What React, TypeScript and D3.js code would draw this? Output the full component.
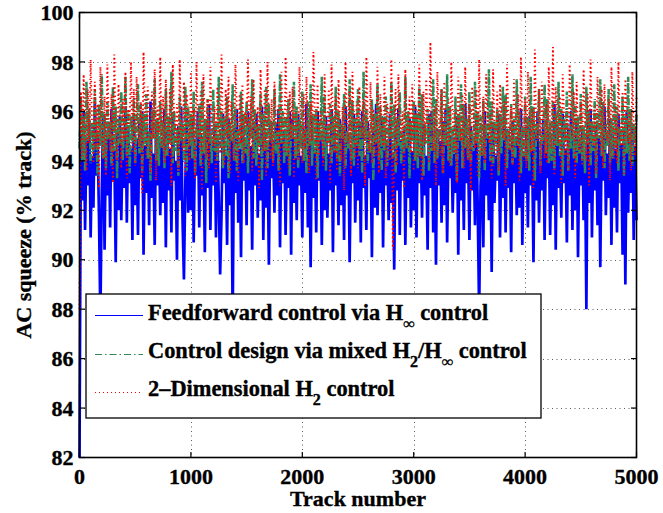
import React from "react";
import * as d3 from "d3";

// Feedforward control via H-infinity (blue, solid)
const blue = [
  82.0, 95.1, 92.4, 96.0, 91.2, 94.8, 93.0, 95.6, 90.9, 94.2, 92.1, 96.3, 93.4, 95.0, 91.7, 87.6, 92.8, 95.9, 90.4, 94.9,
  92.6, 95.4, 91.3, 96.1, 93.2, 94.4, 89.9, 95.2, 92.0, 95.8, 91.6, 94.7, 92.9, 96.2, 91.5, 95.3, 93.1, 94.5, 90.8, 95.7,
  92.2, 94.9, 91.0, 95.5, 93.3, 96.0, 90.2, 94.6, 92.7, 95.2, 91.4, 96.4, 92.5, 94.3, 90.6, 95.6, 93.0, 95.0, 91.8, 94.8,
  92.3, 96.1, 90.5, 95.3, 92.8, 94.5, 91.1, 95.9, 93.2, 94.0, 90.0, 95.4, 92.4, 96.2, 91.6, 89.2, 93.1, 95.7, 91.9, 94.6,
  92.0, 95.8, 90.7, 94.9, 93.4, 96.0, 91.3, 95.1, 92.6, 94.4, 90.3, 95.6, 92.9, 96.3, 91.2, 94.7, 93.0, 95.5, 90.9, 95.0,
  92.5, 89.4, 91.8, 95.9, 93.1, 94.2, 90.6, 95.7, 92.2, 94.8, 87.4, 95.3, 92.7, 96.1, 91.5, 94.5, 90.1, 95.8, 93.2, 94.9,
  91.4, 96.0, 92.8, 94.6, 90.4, 95.4, 93.0, 95.9, 91.7, 94.3, 92.4, 96.2, 90.8, 95.1, 92.1, 94.7, 89.8, 95.6, 93.3, 94.8,
  91.9, 95.5, 92.6, 96.1, 90.5, 94.9, 93.1, 95.2, 91.0, 94.4, 92.9, 96.0, 90.2, 95.7, 92.3, 94.6, 91.6, 95.9, 93.0, 94.2,
  90.9, 95.3, 92.7, 96.3, 91.3, 94.8, 89.7, 95.6, 92.5, 94.5, 91.1, 96.0, 93.2, 95.0, 90.6, 94.7, 92.0, 95.8, 91.7, 94.3,
  92.8, 96.1, 90.3, 95.4, 93.0, 94.6, 91.4, 95.7, 92.2, 94.9, 90.8, 96.2, 92.6, 95.1, 89.9, 94.4, 93.1, 95.9, 91.5, 94.8,
  92.4, 95.5, 90.7, 96.0, 92.9, 94.2, 91.2, 95.6, 93.3, 94.7, 90.1, 95.2, 92.1, 96.3, 91.8, 94.5, 92.7, 95.8, 90.5, 95.0,
  93.0, 94.6, 91.6, 95.9, 92.3, 94.3, 89.6, 95.4, 92.8, 96.1, 91.0, 94.8, 93.2, 95.3, 90.6, 94.9, 92.5, 95.7, 91.3, 94.4,
  92.0, 96.2, 90.9, 95.1, 93.1, 94.7, 91.7, 95.5, 92.6, 94.2, 90.4, 95.9, 92.9, 96.0, 91.1, 94.6, 89.8, 95.3, 93.0, 94.8,
  91.5, 95.6, 92.2, 96.1, 90.7, 94.5, 93.3, 95.0, 91.9, 94.3, 92.7, 95.8, 90.2, 95.2, 92.4, 94.9, 91.2, 96.3, 93.1, 94.6,
  90.8, 95.4, 92.8, 94.7, 91.4, 95.7, 92.0, 87.8, 93.0, 94.4, 90.5, 96.0, 92.6, 95.1, 91.6, 94.8, 89.5, 95.5, 92.3, 94.2,
  93.2, 95.9, 90.9, 94.6, 92.5, 96.2, 91.1, 95.3, 92.9, 94.5, 90.3, 95.6, 93.1, 94.9, 91.8, 95.0, 92.1, 96.1, 90.6, 94.3,
  92.7, 95.4, 91.3, 95.8, 93.0, 94.7, 89.9, 95.2, 92.4, 96.0, 91.5, 94.4, 92.8, 95.7, 90.8, 94.8, 93.3, 95.1, 91.0, 94.6,
  92.2, 96.3, 90.4, 95.5, 92.9, 94.2, 91.7, 95.9, 93.1, 94.5, 90.7, 95.3, 92.6, 96.0, 91.2, 94.9, 92.0, 95.6, 90.1, 94.7,
  93.0, 95.2, 91.6, 94.4, 88.0, 95.8, 92.3, 96.1, 90.9, 94.6, 92.8, 95.4, 91.4, 95.0, 89.7, 94.8, 93.2, 96.2, 91.8, 94.3,
  92.5, 95.7, 90.6, 95.1, 92.1, 94.5, 91.1, 95.9, 93.1, 94.7, 90.2, 95.3, 89.0, 96.0, 91.9, 94.9, 92.7, 95.5, 90.8, 94.6,
  91.6,
];

// Control design via mixed H2/H-infinity (green, dash-dot)
const green = [
  94.5, 96.6, 94.0, 95.8, 93.6, 97.2, 94.8, 96.1, 93.9, 95.5, 94.3, 96.9, 95.0, 93.4, 96.3, 94.6, 97.5, 94.1, 95.9, 93.7,
  96.4, 94.9, 95.6, 93.8, 97.0, 94.4, 96.2, 93.3, 95.7, 94.7, 96.8, 94.0, 95.3, 97.4, 94.2, 96.0, 93.5, 95.8, 94.8, 96.5,
  93.9, 95.4, 97.1, 94.3, 96.3, 93.6, 95.9, 94.6, 96.7, 94.1, 95.2, 93.2, 96.1, 94.9, 97.3, 94.0, 95.7, 93.8, 96.4, 94.5,
  95.6, 93.7, 96.9, 94.2, 95.8, 94.7, 97.6, 93.9, 96.0, 94.4, 95.3, 93.4, 96.6, 94.8, 95.5, 94.0, 97.0, 93.6, 96.2, 94.6,
  95.9, 94.1, 96.8, 93.5, 95.4, 94.9, 96.3, 93.8, 97.2, 94.3, 95.7, 93.1, 96.5, 94.7, 95.1, 93.9, 96.9, 94.4, 95.6, 94.0,
  97.4, 94.6, 96.0, 93.7, 95.8, 94.2, 96.6, 93.3, 95.5, 94.8, 97.1, 94.0, 96.2, 93.6, 95.3, 94.5, 96.8, 93.9, 95.9, 94.3,
  96.4, 93.5, 95.7, 94.9, 97.3, 94.1, 96.1, 93.8, 95.4, 94.6, 96.7, 93.2, 95.9, 94.4, 97.0, 93.7, 96.3, 94.8, 95.6, 94.0,
  96.9, 94.3, 95.2, 93.6, 97.5, 94.7, 96.0, 93.9, 95.8, 94.2, 96.5, 93.4, 95.5, 94.9, 97.2, 94.1, 96.2, 93.7, 95.7, 94.5,
  96.8, 94.0, 95.3, 93.5, 96.4, 94.6, 97.1, 93.8, 95.9, 94.3, 96.1, 93.3, 95.6, 94.8, 97.4, 94.2, 96.6, 93.6, 95.4, 94.7,
  96.3, 93.9, 95.8, 94.4, 97.0, 94.1, 96.0, 93.4, 95.5, 94.9, 96.7, 93.7, 95.2, 94.5, 97.3, 94.0, 96.4, 93.8, 95.7, 94.6,
  96.9, 94.2, 95.6, 93.5, 97.6, 94.8, 96.1, 93.9, 95.3, 94.3, 96.5, 93.2, 95.9, 94.7, 97.1, 94.0, 96.2, 93.6, 95.8, 94.4,
  96.6, 93.8, 95.4, 94.9, 97.2, 94.1, 96.3, 93.5, 95.7, 94.6, 96.8, 93.9, 95.1, 94.3, 97.4, 94.5, 96.0, 93.3, 95.6, 94.8,
  96.4, 94.0, 95.9, 93.7, 97.0, 94.2, 96.7, 93.4, 95.5, 94.7, 96.1, 93.6, 95.8, 94.4, 97.3, 93.9, 96.5, 94.1, 95.3, 94.9,
  96.9, 93.5, 95.6, 94.6, 97.5, 94.0, 96.2, 93.8, 95.4, 94.3, 96.6, 93.2, 95.9, 94.8, 97.1, 93.7, 96.3, 94.5, 95.7, 94.1,
  96.8, 93.9, 95.2, 94.4, 97.2, 94.7, 96.0, 93.3, 95.8, 94.2, 96.5, 93.6, 95.5, 94.9, 97.7, 94.0, 96.4, 93.8, 95.6, 94.6,
  96.1, 93.4, 95.9, 94.3, 97.0, 94.8, 96.7, 93.7, 95.3, 94.5, 96.3, 93.9, 95.7, 94.1, 97.3, 94.6, 96.0, 93.5, 95.4, 94.2,
  96.6, 94.0, 95.8, 93.6, 97.4, 94.4, 96.2, 93.2, 95.5, 94.9, 96.9, 93.8, 95.1, 94.7, 97.1, 94.3, 96.5, 93.9, 95.6, 94.0,
  96.4, 93.7, 95.9, 94.6, 97.2, 94.2, 96.1, 93.4, 95.7, 94.8, 96.8, 93.6, 95.3, 94.5, 97.5, 94.1, 96.3, 93.9, 95.8, 94.3,
  96.7, 94.0, 95.4, 93.5, 97.0, 94.7, 96.0, 93.8, 95.6, 94.4, 96.5, 93.3, 95.9, 94.9, 97.3, 94.2, 96.4, 93.7, 95.5, 94.6,
  96.9, 93.9, 95.7, 94.1, 97.1, 94.5, 96.2, 93.6, 95.3, 94.8, 96.6, 93.4, 95.8, 94.3, 97.4, 94.0, 96.1, 93.8, 95.5, 94.7,
  95.9,
];

// 2-Dimensional H2 control (red, dotted)
const red = [
  88.0, 96.8, 94.2, 97.5, 95.1, 93.6, 96.9, 94.7, 98.1, 95.4, 93.9, 97.2, 94.5, 96.3, 92.9, 97.8, 95.0, 94.1, 96.6, 93.4,
  97.9, 95.6, 94.4, 96.7, 93.1, 98.3, 95.2, 94.0, 97.1, 95.8, 93.7, 96.5, 94.8, 97.6, 93.3, 96.1, 95.5, 98.0, 94.3, 96.9,
  93.8, 97.4, 95.3, 94.6, 96.4, 92.7, 98.4, 95.7, 94.1, 97.0, 95.9, 93.5, 96.8, 94.9, 97.7, 93.2, 96.2, 95.1, 98.2, 94.5,
  96.6, 93.9, 97.3, 95.4, 94.2, 96.9, 93.0, 97.9, 95.6, 94.7, 96.3, 93.6, 98.1, 95.0, 94.4, 97.2, 93.4, 96.7, 95.8, 94.0,
  97.6, 94.8, 96.1, 93.3, 98.0, 95.2, 94.5, 96.8, 92.8, 97.5, 95.5, 94.1, 96.5, 93.7, 97.8, 95.1, 94.6, 96.2, 93.1, 97.0,
  95.7, 94.3, 98.3, 95.0, 93.8, 96.9, 94.9, 97.4, 93.5, 96.4, 95.3, 94.0, 97.9, 95.9, 93.2, 96.7, 94.7, 97.1, 93.9, 96.0,
  95.4, 98.1, 94.2, 96.6, 93.6, 97.3, 95.1, 94.8, 96.2, 92.9, 97.7, 95.6, 94.4, 96.9, 93.4, 98.0, 95.2, 94.1, 96.5, 93.8,
  97.2, 95.8, 94.6, 96.3, 93.0, 97.6, 95.0, 94.3, 98.2, 95.5, 93.7, 96.8, 94.9, 97.0, 93.3, 96.1, 95.7, 94.0, 97.8, 95.3,
  93.9, 96.7, 94.5, 97.4, 95.1, 93.5, 96.4, 94.8, 98.4, 95.9, 93.2, 97.1, 94.2, 96.0, 95.4, 93.8, 97.5, 95.0, 94.6, 96.9,
  93.1, 97.9, 95.6, 94.3, 96.6, 93.6, 97.3, 95.2, 94.0, 96.2, 92.8, 98.0, 95.8, 94.7, 96.8, 93.4, 97.6, 95.5, 94.1, 96.4,
  93.7, 97.0, 95.3, 94.9, 96.5, 93.0, 98.2, 95.7, 94.4, 97.2, 93.9, 96.1, 95.0, 94.2, 97.8, 93.5, 96.7, 95.4, 94.6, 97.4,
  93.3, 96.3, 95.9, 94.0, 98.1, 90.4, 94.5, 96.9, 93.8, 97.5, 95.6, 94.8, 96.0, 92.9, 97.7, 95.2, 94.5, 96.6, 94.3, 97.1,
  93.6, 96.4, 95.8, 94.1, 97.9, 95.0, 93.2, 96.8, 94.7, 97.3, 95.5, 93.9, 98.8, 95.3, 94.4, 96.2, 93.0, 97.6, 95.7, 94.2,
  96.9, 93.5, 97.2, 95.1, 94.6, 96.5, 93.8, 98.0, 95.9, 94.3, 96.1, 93.1, 97.4, 95.4, 94.8, 96.7, 93.7, 97.8, 95.2, 94.0,
  96.3, 92.8, 97.0, 95.6, 94.5, 96.9, 93.4, 98.1, 95.0, 94.2, 96.6, 93.9, 97.5, 95.8, 94.7, 96.0, 93.3, 97.7, 95.3, 94.1,
  96.8, 93.6, 97.1, 95.5, 94.9, 96.4, 93.0, 97.9, 95.7, 94.4, 96.2, 93.8, 97.3, 95.1, 94.6, 96.7, 93.2, 98.2, 95.4, 94.0,
  96.5, 93.7, 97.6, 95.9, 94.3, 96.1, 92.9, 98.5, 95.2, 94.8, 96.9, 93.5, 97.2, 95.6, 94.1, 96.3, 93.9, 97.8, 95.0, 94.5,
  98.6, 93.4, 97.0, 95.3, 94.7, 96.6, 93.1, 97.5, 95.8, 94.2, 96.0, 93.6, 97.9, 95.5, 94.9, 96.8, 93.3, 97.2, 95.1, 94.4,
  96.4, 93.8, 97.7, 95.7, 94.0, 96.7, 93.0, 98.1, 95.4, 94.6, 96.2, 93.5, 97.4, 95.9, 94.3, 96.9, 93.7, 97.1, 95.2, 94.8,
  96.5, 93.2, 97.8, 95.6, 94.1, 96.3, 93.9, 98.0, 95.0, 94.5, 96.8, 93.4, 97.3, 95.8, 94.7, 96.1, 93.6, 97.6, 95.3, 94.2,
  96.6,
];

const xTicks = [0, 1000, 2000, 3000, 4000, 5000];
const yTicks = [82, 84, 86, 88, 90, 92, 94, 96, 98, 100];
const xDomain = [0, 5000];
const yDomain = [82, 100];
const xLabel = "Track number";
const yLabel = "AC squeeze (% track)";

const FONT = "'Liberation Serif', 'Times New Roman', Times, serif";

export default function App() {
  const W = 663;
  const H = 513;
  const x = d3.scaleLinear().domain(xDomain).range([79.5, 636.5]);
  const y = d3.scaleLinear().domain(yDomain).range([457.5, 12.5]);

  const mkLine = (arr: number[]) =>
    d3
      .line<number>()
      .x((_, i) => x((i * (xDomain[1] - xDomain[0])) / (arr.length - 1)))
      .y((d) => y(d))(arr) || "";

  const x0 = x.range()[0];
  const x1 = x.range()[1];
  const y0 = y.range()[0];
  const y1 = y.range()[1];
  const tickLen = 5.5;

  const blueColor = "#0000ff";
  const greenColor = "#2e8b57";
  const redColor = "#ff0000";

  const legend = { l: 86, t: 294, r: 541, b: 418 };
  const rowBase = [320, 358, 396];
  const rowLine = [315.5, 354.5, 392.5];
  const subDy = 9;
  const subSize = 16;
  const textStroke = { stroke: "#000", strokeWidth: 0.35 };

  return (
    <svg
      width={W}
      height={H}
      style={{ position: "absolute", left: 0, top: 0, background: "#fff" }}
      fontFamily={FONT}
    >
      <rect x={0} y={0} width={W} height={H} fill="#fff" />
      {/* grid */}
      <g stroke="#333" strokeWidth={1} strokeDasharray="1,3.5" opacity={0.8}>
        {xTicks.slice(1, -1).map((t) => (
          <line key={"gx" + t} x1={Math.round(x(t)) + 0.5} x2={Math.round(x(t)) + 0.5} y1={y1} y2={y0} />
        ))}
        {yTicks.slice(1, -1).map((t) => (
          <line key={"gy" + t} x1={x0} x2={x1} y1={Math.round(y(t)) + 0.5} y2={Math.round(y(t)) + 0.5} />
        ))}
      </g>
      {/* data */}
      <path d={mkLine(blue)} fill="none" stroke={blueColor} strokeWidth={2.7} strokeLinejoin="bevel" />
      <path d={mkLine(green)} fill="none" stroke={greenColor} strokeWidth={2.5} strokeLinejoin="bevel" strokeDasharray="7,1.5,1.6,1.5" />
      <path d={mkLine(red)} fill="none" stroke={redColor} strokeWidth={1.9} strokeLinejoin="bevel" strokeDasharray="1.4,2.8" />
      {/* box */}
      <rect x={x0} y={y1} width={x1 - x0} height={y0 - y1} fill="none" stroke="#000" strokeWidth={1.6} />
      {/* ticks */}
      <g stroke="#000" strokeWidth={1.2}>
        {xTicks.map((t) => (
          <g key={"tx" + t}>
            <line x1={x(t)} x2={x(t)} y1={y0} y2={y0 - tickLen} />
            <line x1={x(t)} x2={x(t)} y1={y1} y2={y1 + tickLen} />
          </g>
        ))}
        {yTicks.map((t) => (
          <g key={"ty" + t}>
            <line x1={x0} x2={x0 + tickLen} y1={y(t)} y2={y(t)} />
            <line x1={x1} x2={x1 - tickLen} y1={y(t)} y2={y(t)} />
          </g>
        ))}
      </g>
      {/* tick labels */}
      <g fontSize={22} fontWeight="bold" fill="#000" {...textStroke}>
        {xTicks.map((t) => (
          <text key={"lx" + t} x={x(t)} y={484} textAnchor="middle">
            {t}
          </text>
        ))}
        {yTicks.map((t) => (
          <text key={"ly" + t} x={73.5} y={y(t)} dy="0.35em" textAnchor="end">
            {t}
          </text>
        ))}
      </g>
      <text x={358} y={506} textAnchor="middle" fontSize={22} fontWeight="bold" {...textStroke}>
        {xLabel}
      </text>
      <text
        transform={`translate(31, ${(y0 + y1) / 2}) rotate(-90)`}
        textAnchor="middle"
        fontSize={22}
        fontWeight="bold"
        {...textStroke}
      >
        {yLabel}
      </text>
      {/* legend */}
      <rect
        x={legend.l}
        y={legend.t}
        width={legend.r - legend.l}
        height={legend.b - legend.t}
        fill="#fff"
        stroke="#000"
        strokeWidth={1.3}
      />
      <line x1={95} x2={143} y1={rowLine[0]} y2={rowLine[0]} stroke={blueColor} strokeWidth={1} />
      <line x1={95} x2={143} y1={rowLine[1]} y2={rowLine[1]} stroke={greenColor} strokeWidth={1} strokeDasharray="7,3,1.5,3" />
      <line x1={95} x2={143} y1={rowLine[2]} y2={rowLine[2]} stroke={redColor} strokeWidth={1} strokeDasharray="1,3" />
      <g fontSize={22.4} fontWeight="bold" fill="#000" {...textStroke}>
        <text x={148} y={rowBase[0]}>
          <tspan>Feedforward control via H</tspan>
          <tspan dy={subDy} fontSize={subSize}>∞</tspan>
          <tspan dy={-subDy}> control</tspan>
        </text>
        <text x={148} y={rowBase[1]}>
          <tspan>Control design via mixed H</tspan>
          <tspan dy={subDy} fontSize={subSize}>2</tspan>
          <tspan dy={-subDy}>/H</tspan>
          <tspan dy={subDy} fontSize={subSize}>∞</tspan>
          <tspan dy={-subDy}> control</tspan>
        </text>
        <text x={148} y={rowBase[2]}>
          <tspan>2–Dimensional H</tspan>
          <tspan dy={subDy} fontSize={subSize}>2</tspan>
          <tspan dy={-subDy}> control</tspan>
        </text>
      </g>
    </svg>
  );
}
